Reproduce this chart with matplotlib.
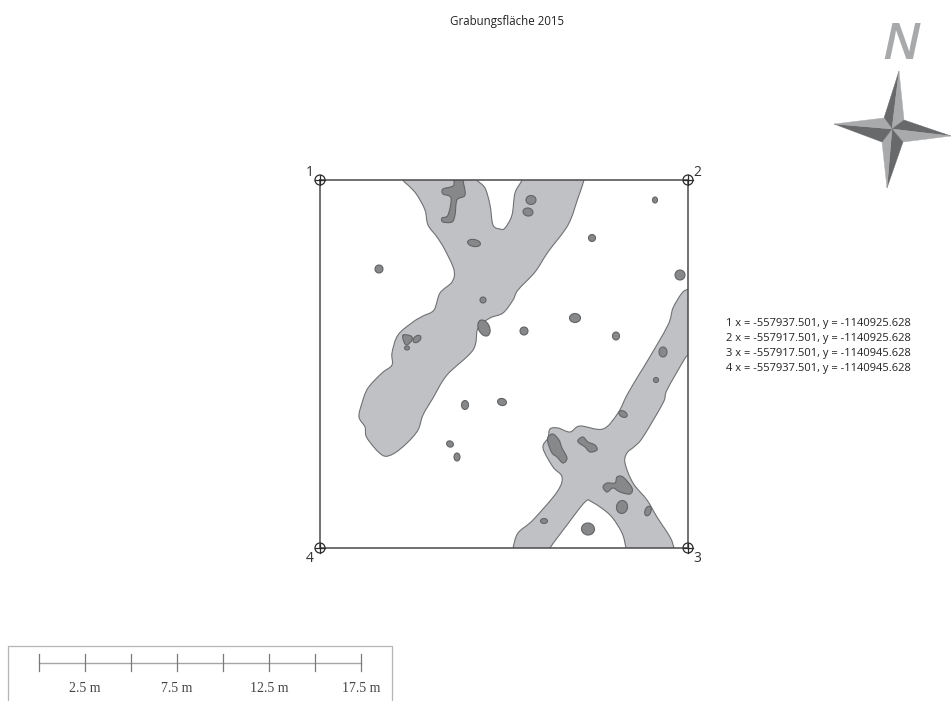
import matplotlib
matplotlib.use('Agg')
import matplotlib.pyplot as plt
from matplotlib.patches import Ellipse, PathPatch, Polygon, Circle, Rectangle
from matplotlib.path import Path
import numpy as np

frame_x = [320, 688, 688, 320]
frame_y = [180, 180, 548, 548]
corner_labels = ['1', '2', '3', '4']
coord_lines = ['1 x = -557937.501, y = -1140925.628',
               '2 x = -557917.501, y = -1140925.628',
               '3 x = -557917.501, y = -1140945.628',
               '4 x = -557937.501, y = -1140945.628']

# upper left feature, runs out of the top edge
feature_a = [(403, 172), (403, 180), (410, 187), (417, 195), (425, 210), (428, 225), (437, 237),
             (445, 250), (454, 270), (452, 282), (440, 293), (434, 310), (423, 316),
             (413, 322), (398, 335), (392, 353), (392, 365), (382, 373), (368, 388),
             (362, 403), (359, 417), (365, 427), (367, 438), (382, 455), (393, 454),
             (407, 443), (418, 430), (423, 415), (433, 398), (447, 375), (473, 350),
             (478, 328), (490, 318), (503, 313), (513, 300), (518, 290), (535, 272),
             (548, 252), (568, 225), (578, 198), (584, 180), (585, 172), (522, 172), (522, 180),
             (515, 193), (512, 215), (505, 228), (500, 229), (493, 225), (490, 205),
             (485, 188), (477, 180), (476, 172)]

# lower right feature, crossing
feature_b = [(696, 284), (688, 289), (682, 293), (673, 308), (668, 325), (648, 360), (640, 373),
             (627, 395), (618, 413), (603, 429), (580, 426), (570, 432), (558, 428),
             (550, 429), (548, 438), (543, 448), (553, 467), (562, 477), (557, 492),
             (533, 520), (518, 533), (513, 548), (511, 556), (548, 556), (550, 548), (567, 525),
             (585, 502), (592, 502), (610, 515), (622, 533), (626, 548), (628, 556), (676, 556),
             (674, 548), (670, 537), (657, 517), (647, 500), (633, 483), (625, 463),
             (627, 453), (635, 446), (643, 437), (663, 403), (667, 390), (684, 360),
             (688, 355), (696, 345)]

dark_patches = [
    [(454, 172), (454, 180), (453, 186), (443, 189), (443, 194), (451, 198), (448, 215),
     (442, 218), (443, 222), (452, 222), (455, 215), (457, 200), (465, 195), (463, 180), (463, 172)],
    [(548, 437), (553, 434), (559, 440), (562, 448), (567, 458), (563, 463), (557, 457),
     (552, 453), (548, 443)],
    [(578, 440), (583, 437), (588, 442), (595, 445), (597, 450), (590, 452), (585, 447),
     (579, 443)],
    [(603, 487), (607, 483), (615, 483), (617, 477), (623, 477), (632, 488), (630, 494),
     (620, 492), (613, 488), (607, 492)],
    [(403, 335), (411, 336), (412, 340), (407, 345), (404, 342)],
]

# small pits: centre x, centre y, width, height, angle
pit_x = [474, 379, 483, 484, 417, 407, 465, 502, 450, 457, 524,
         531, 528, 655, 592, 680, 575, 616, 663, 656, 623, 544, 588, 622, 648]
pit_y = [243, 269, 300, 328, 339, 348, 405, 402, 444, 457, 331,
         200, 212, 200, 238, 275, 318, 336, 352, 380, 414, 521, 529, 507, 511]
pit_w = [13, 8, 6, 11, 9, 5, 7, 9, 7, 6, 8,
         10, 10, 5, 7, 10, 11, 7, 8, 5, 9, 7, 13, 11, 6]
pit_h = [7, 8, 6, 17, 6, 4, 9, 7, 6, 8, 8,
         9, 8, 6, 7, 10, 9, 8, 10, 5, 6, 5, 12, 13, 10]
pit_a = [10, 0, 0, -25, -40, 0, 0, 15, 30, 0, 0,
         0, 10, 0, 20, 0, 0, 0, 0, 0, 30, 0, 10, 10, 20]

scale_ticks_m = [0, 2.5, 5, 7.5, 10, 12.5, 15, 17.5]
scale_labels = ['2.5 m', '7.5 m', '12.5 m', '17.5 m']
scale_label_m = [2.5, 7.5, 12.5, 17.5]

# compass: tip, inner corner, centre facets
star_centre = (892, 129)
star_tips = [(899, 71), (951, 136), (887, 188), (834, 124)]
star_inner = [(904, 120), (903, 142), (882, 142), (884, 118)]


def smooth(points):
    # closed catmull-rom curve, goes through every point
    pts = np.array(points, dtype=float)
    n = len(pts)
    verts = [pts[0]]
    codes = [Path.MOVETO]
    for i in range(n):
        p0, p1, p2, p3 = pts[i - 1], pts[i], pts[(i + 1) % n], pts[(i + 2) % n]
        verts += [p1 + (p2 - p0) / 6, p2 - (p3 - p1) / 6, p2]
        codes += [Path.CURVE4] * 3
    return Path(verts, codes)


plt.rcParams['font.family'] = ['Open Sans', 'DejaVu Sans']
fig = plt.figure(figsize=(9.51, 7.01), dpi=100)
ax = fig.add_axes([0, 0, 1, 1])
ax.set_xlim(0, 951)
ax.set_ylim(701, 0)
ax.axis('off')

clip = Rectangle((frame_x[0], frame_y[0]), frame_x[1] - frame_x[0], frame_y[2] - frame_y[0],
                 transform=ax.transData)

for feat in (feature_a, feature_b):
    p = PathPatch(smooth(feat), facecolor='#c0c1c4', edgecolor='#707173', lw=0.8)
    ax.add_patch(p)
    p.set_clip_path(clip)
for d in dark_patches:
    p = PathPatch(smooth(d), facecolor='#87888a', edgecolor='#636466', lw=0.8)
    ax.add_patch(p)
    p.set_clip_path(clip)
for x, y, w, h, a in zip(pit_x, pit_y, pit_w, pit_h, pit_a):
    ax.add_patch(Ellipse((x, y), w, h, angle=a, facecolor='#87888a', edgecolor='#636466', lw=0.8))

# frame and survey points
ax.plot(frame_x + frame_x[:1], frame_y + frame_y[:1], color='#4a4a4c', lw=1.1, solid_joinstyle='miter')
for x, y in zip(frame_x, frame_y):
    ax.add_patch(Circle((x, y), 5, facecolor='none', edgecolor='#2b2b2b', lw=0.9))
    ax.plot([x - 5, x + 5], [y, y], color='#2b2b2b', lw=0.9)
    ax.plot([x, x], [y - 5, y + 5], color='#2b2b2b', lw=0.9)
label_dx = [-10, 9, 9, -10]
label_dy = [-8, -8, 11, 11]
for x, y, s, dx, dy in zip(frame_x, frame_y, corner_labels, label_dx, label_dy):
    ax.text(x + dx, y + dy, s, fontsize=10, color='#333333', ha='center', va='center')

ax.text(507, 21, 'Grabungsfläche 2015', fontsize=8.3, color='#222222', ha='center', va='center')

for i, line in enumerate(coord_lines):
    ax.text(726, 323.5 + i * 14.9, line, fontsize=8, color='#222222', ha='left', va='center')

# scale bar
sx = [39 + m * 18.4 for m in scale_ticks_m]
ax.plot([8, 8, 391.5, 391.5], [701, 646, 646, 701], color='#b5b5b5', lw=0.9)
ax.plot([sx[0], sx[-1]], [662.5, 662.5], color='#a5a5a5', lw=1.0)
for x in sx:
    ax.plot([x, x], [654, 671], color='#7a7a7a', lw=0.9)
for m, s in zip(scale_label_m, scale_labels):
    ax.text(39 + m * 18.4, 689, s, family='Liberation Serif', fontsize=10, color='#444444',
            ha='center', va='center')

# north arrow
cx, cy = star_centre
dark = '#68696b'
light = '#a9aaac'
facets = [(star_tips[0], star_inner[3], dark), (star_tips[0], star_inner[0], light),
          (star_tips[1], star_inner[0], dark), (star_tips[1], star_inner[1], light),
          (star_tips[2], star_inner[1], dark), (star_tips[2], star_inner[2], light),
          (star_tips[3], star_inner[2], dark), (star_tips[3], star_inner[3], light)]
for tip, inner, c in facets:
    ax.add_patch(Polygon([tip, inner, (cx, cy)], closed=True, facecolor=c, edgecolor=c, lw=0.3))
ax.text(901, 46, 'N', fontsize=37, style='italic', weight='semibold', color='#a8a9ab', ha='center', va='center',
        family=['Open Sans', 'DejaVu Sans'])

fig.savefig('out.png', dpi=100)
